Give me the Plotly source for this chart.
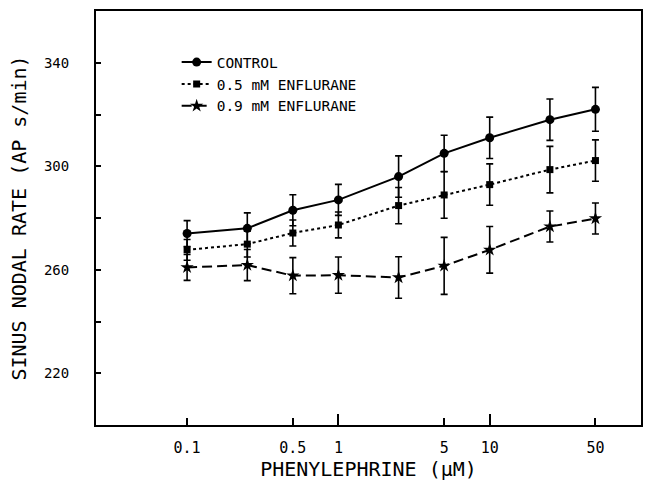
import plotly.graph_objects as go
import math

conc = [0.1, 0.25, 0.5, 1, 2.5, 5, 10, 25, 50]
control = [274.0, 276.0, 283.0, 287.0, 296.0, 305.0, 311.0, 318.0, 322.0]
control_err = [5, 6, 6, 6, 8, 7, 8, 8, 8.5]
enf05 = [267.7, 269.9, 274.2, 277.3, 284.8, 288.9, 292.9, 298.7, 302.2]
enf05_err = [4, 5, 5, 5, 7, 9, 8, 9, 8]
enf09 = [260.9, 261.8, 257.7, 257.9, 257.0, 261.5, 267.7, 276.7, 279.8]
enf09_err = [5, 6, 7, 7, 8, 11, 9, 6, 6]

series_names = ["CONTROL", "0.5 mM ENFLURANE", "0.9 mM ENFLURANE"]
x_ticks = [0.1, 0.5, 1, 5, 10, 50]
x_tick_text = ["0.1", "0.5", "1", "5", "10", "50"]
y_ticks = [200, 220, 240, 260, 280, 300, 320, 340, 360]
y_tick_text = ["", "220", "", "260", "", "300", "", "340", ""]

FONT = "DejaVu Sans Mono"
ink = "black"

fig = go.Figure()

styles = [
    (control, control_err, "solid", "circle", 9),
    (enf05, enf05_err, "dot", "square", 7),
    (enf09, enf09_err, "10px,5px", "star", 10),
]
for name, (vals, errs, dash, sym, size) in zip(series_names, styles):
    fig.add_trace(go.Scatter(
        x=conc, y=vals, name=name, mode="lines+markers",
        line=dict(color=ink, width=2, dash=dash),
        marker=dict(symbol=sym, size=size, color=ink),
        error_y=dict(type="data", array=errs, visible=True,
                     color=ink, thickness=1.6, width=3.5),
    ))

fig.update_layout(
    width=651, height=482,
    margin=dict(l=96, r=8, t=11, b=57),
    paper_bgcolor="white", plot_bgcolor="white",
    font=dict(family=FONT, color=ink, size=14),
    showlegend=True,
    legend=dict(x=0.148, y=0.915, xanchor="left", yanchor="top",
                font=dict(family=FONT, size=14.5, color=ink),
                bgcolor="rgba(0,0,0,0)", tracegroupgap=0, itemwidth=30),
    xaxis=dict(
        type="log", range=[math.log10(0.025), 2],
        tickmode="array", tickvals=x_ticks, ticktext=x_tick_text,
        ticks="inside", ticklen=7, tickwidth=1.5, tickcolor=ink,
        minor=dict(tickmode="array", tickvals=[1, 10], ticks="inside",
                   ticklen=11, tickwidth=1.5, tickcolor=ink),
        showgrid=False, zeroline=False,
        showline=True, linecolor=ink, linewidth=2, mirror=True,
        tickfont=dict(family=FONT, size=15),
        ticklabelstandoff=8,
        title=dict(text="PHENYLEPHRINE (μM)", font=dict(family=FONT, size=20), standoff=3),
    ),
    yaxis=dict(
        range=[200, 360],
        tickmode="array", tickvals=y_ticks, ticktext=y_tick_text,
        ticks="inside", ticklen=5, tickwidth=1.5, tickcolor=ink,
        showgrid=False, zeroline=False,
        showline=True, linecolor=ink, linewidth=2, mirror=True,
        tickfont=dict(family=FONT, size=14),
        ticklabelstandoff=22,
        title=dict(text="SINUS NODAL RATE (AP s/min)", font=dict(family=FONT, size=20), standoff=12),
    ),
)

fig.write_html("out.html")
